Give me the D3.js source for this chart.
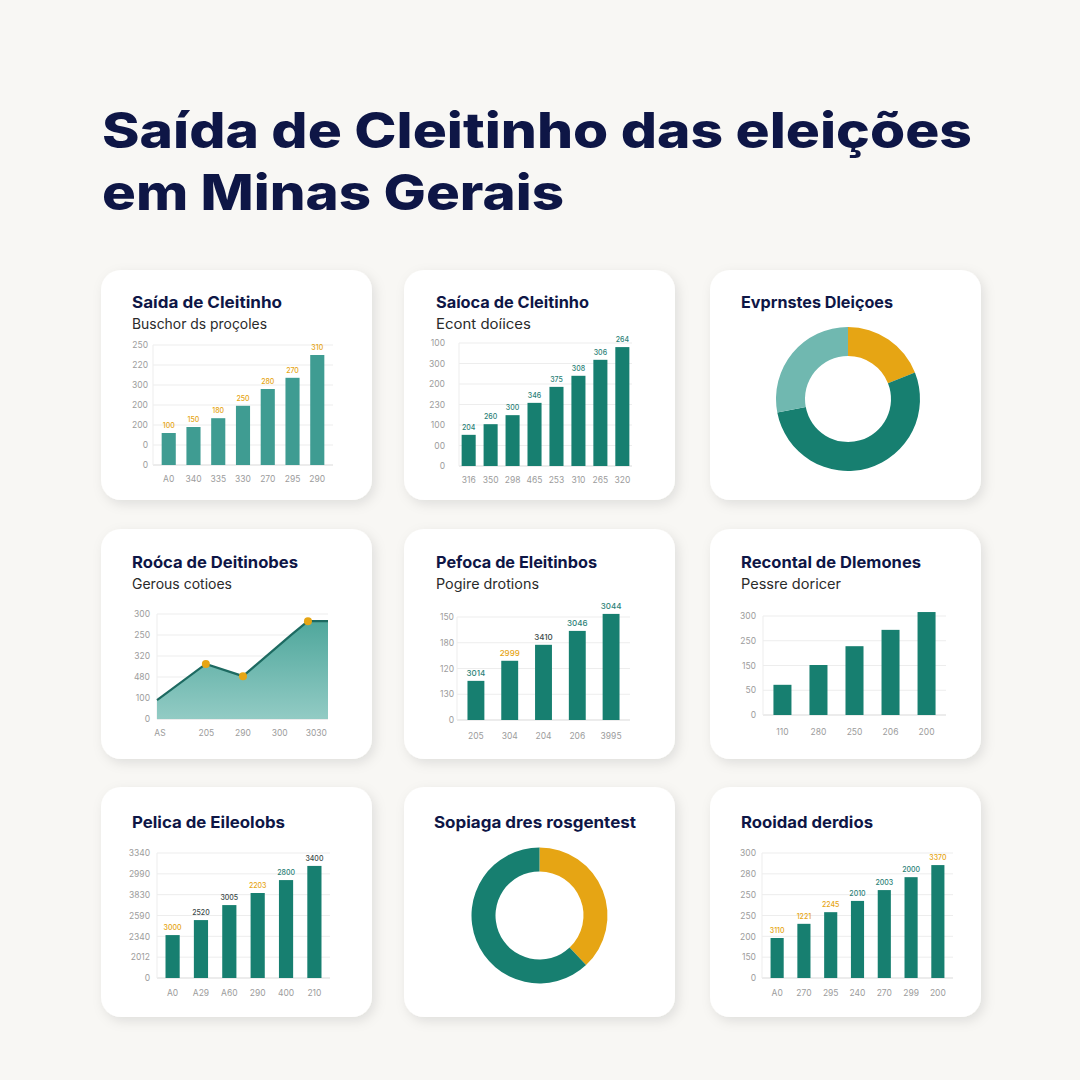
<!DOCTYPE html>
<html><head><meta charset="utf-8">
<script src="https://cdn.jsdelivr.net/npm/d3@7"></script>
<style>
html,body{margin:0;padding:0;background:#f8f7f4;}
svg{display:block;font-family:Inter,"Noto Sans",sans-serif;}
</style>
</head><body>
<svg id="chart" width="1080" height="1080"></svg>
<script>
// ---------------- DATA ----------------
const mainTitle = ["Saída de Cleitinho das eleições", "em Minas Gerais"];

const panelTitles = ["Saída de Cleitinho","Saíoca de Cleitinho","Evprnstes Dleiçoes",
  "Roóca de Deitinobes","Pefoca de Eleitinbos","Recontal de Dlemones",
  "Pelica de Eileolobs","Sopiaga dres rosgentest","Rooidad derdios"];
const panelSubtitles = ["Buschor ds proçoles","Econt doíices",null,
  "Gerous cotioes","Pogire drotions","Pessre doricer",null,null,null];

// Panel 1 (bars)
const p1Categories  = ["A0","340","335","330","270","295","290"];
const p1Values      = [80,95,117,148,190,218,275];
const p1ValueLabels = ["100","150","180","250","280","270","310"];
const p1TickLabels  = ["0","0","200","200","300","220","250"];
const p1Max = 300;

// Panel 2 (bars)
const p2Categories  = ["316","350","298","465","253","310","265","320"];
const p2Values      = [76,102,124,154,193,220,259,290];
const p2ValueLabels = ["204","260","300","346","375","308","306","264"];
const p2TickLabels  = ["0","00","100","230","200","300","100"];
const p2Max = 300;

// Panel 3 (donut)
const p3Slices = ["A","B","C"];
const p3Values = [19,53,28];

// Panel 4 (area)
const p4X          = [0,2,3.52,5.53,6.18,7];
const p4Values     = [45,131,102,202,233,233];
const p4Highlight  = [false,true,true,false,true,false];
const p4XTicks     = [0.1,2,3.5,5,6.5];
const p4XLabels    = ["AS","205","290","300","3030"];
const p4TickLabels = ["0","100","480","320","250","300"];
const p4Max = 250, p4XMax = 7;

// Panel 5 (bars)
const p5Categories  = ["205","304","204","206","3995"];
const p5Values      = [76,115,146,173,206];
const p5ValueLabels = ["3014","2999","3410","3046","3044"];
const p5TickLabels  = ["0","130","120","180","150"];
const p5Max = 200;

// Panel 6 (bars)
const p6Categories  = ["110","280","250","206","200"];
const p6Values      = [61,101,139,172,208];
const p6TickLabels  = ["0","50","150","250","300"];
const p6Max = 200;

// Panel 7 (bars)
const p7Categories  = ["A0","A29","A60","290","400","210"];
const p7Values      = [103,139,175,204,235,269];
const p7ValueLabels = ["3000","2520","3005","2203","2800","3400"];
const p7TickLabels  = ["0","2012","2340","2590","3830","2990","3340"];
const p7Max = 300;

// Panel 8 (donut)
const p8Slices = ["A","B"];
const p8Values = [38,62];

// Panel 9 (bars)
const p9Categories  = ["A0","270","295","240","270","299","200"];
const p9Values      = [96,130,158,185,211,242,271];
const p9ValueLabels = ["3110","1221","2245","2010","2003","2000","3370"];
const p9TickLabels  = ["0","150","200","250","250","280","300"];
const p9Max = 300;

// ---------------- STYLE / LAYOUT ----------------
const C = {
  bg:"#f8f7f4", navy:"#0e1646", teal:"#177f70", tealLight:"#3f9c92",
  tealPale:"#70b8b0", orange:"#e6a514", tick:"#9c9c9c", grid:"#ededed", axis:"#d9d9d9",
  labTeal:"#2b7f77", labDark:"#3c4a4a"
};
const cardPos = [[101,270],[404,270],[710,270],[101,529],[404,529],[710,529],[101,787],[404,787],[710,787]];
const cardW = 271, cardH = 230, cardR = 20;
const titlePos = [[132,308,150],[436,308,153],[741,308,152],[132,568,166],[436,568,161],[741,568,180],[132,828,153],[434,828,202],[741,828,132]];
const subPos = [[132,329,135],[436,329,95],null,[132,589,100],[436,589,103],[741,589,100],null,null,null];

const svg = d3.select("#chart");
svg.append("rect").attr("width",1080).attr("height",1080).attr("fill",C.bg);

const defs = svg.append("defs");
const f = defs.append("filter").attr("id","sh").attr("x","-20%").attr("y","-20%").attr("width","140%").attr("height","140%");
f.append("feDropShadow").attr("dx",3).attr("dy",4).attr("stdDeviation",6).attr("flood-color","#000").attr("flood-opacity",0.10);
const grad = defs.append("linearGradient").attr("id","areaGrad").attr("x1",0).attr("y1",0).attr("x2",0).attr("y2",1);
grad.append("stop").attr("offset","0%").attr("stop-color","#4fa79c");
grad.append("stop").attr("offset","100%").attr("stop-color","#92cbc4");

// main title
svg.append("g").selectAll("text").data(mainTitle).join("text")
  .attr("x",102).attr("y",(d,i)=>148+i*62)
  .attr("font-size",49).attr("font-weight",800).attr("fill",C.navy)
  .attr("textLength",(d,i)=>i===0?870:462).attr("lengthAdjust","spacingAndGlyphs")
  .text(d=>d);

// cards
svg.append("g").selectAll("rect").data(cardPos).join("rect")
  .attr("x",d=>d[0]).attr("y",d=>d[1]).attr("width",cardW).attr("height",cardH)
  .attr("rx",cardR).attr("fill","#fff").attr("filter","url(#sh)");

// panel titles
svg.append("g").selectAll("text").data(panelTitles).join("text")
  .attr("x",(d,i)=>titlePos[i][0]).attr("y",(d,i)=>titlePos[i][1])
  .attr("textLength",(d,i)=>titlePos[i][2]).attr("lengthAdjust","spacingAndGlyphs")
  .attr("font-size",16).attr("font-weight",700).attr("fill",C.navy).text(d=>d);
svg.append("g").selectAll("text").data(panelSubtitles.map((s,i)=>({s,i})).filter(d=>d.s)).join("text")
  .attr("x",d=>subPos[d.i][0]).attr("y",d=>subPos[d.i][1])
  .attr("textLength",d=>subPos[d.i][2]).attr("lengthAdjust","spacingAndGlyphs")
  .attr("font-size",14).attr("font-weight",400).attr("fill","#2a2a2a").text(d=>d.s);

function yAxisAndGrid(g, y, tickVals, tickLabels, plot){
  g.append("g").selectAll("line").data(tickVals.slice(1)).join("line")
    .attr("x1",plot.left).attr("x2",plot.right).attr("y1",d=>y(d)).attr("y2",d=>y(d))
    .attr("stroke",C.grid).attr("stroke-width",1);
  g.append("line").attr("x1",plot.left).attr("x2",plot.right).attr("y1",plot.bottom).attr("y2",plot.bottom)
    .attr("stroke",C.axis).attr("stroke-width",1);
  g.append("line").attr("x1",plot.left).attr("x2",plot.left).attr("y1",plot.top).attr("y2",plot.bottom)
    .attr("stroke",C.grid).attr("stroke-width",1);
  const ya = d3.axisLeft(y).tickValues(tickVals).tickFormat((d,i)=>tickLabels[i]).tickSize(0).tickPadding(0);
  const ag = g.append("g").attr("transform",`translate(${plot.labelX},0)`).call(ya);
  ag.select(".domain").remove();
  ag.attr("font-family",null).attr("font-size",null);
  ag.selectAll("text").attr("fill",C.tick).style("font-size","8.5px");
}

function barPanel(cfg){
  const g = svg.append("g");
  const {plot, categories, values, valueLabels, tickLabels, yMax, barColor, labelColors, pi, po, labelSize} = cfg;
  const idx = d3.range(categories.length);
  const x = d3.scaleBand().domain(idx).range([plot.left, plot.right]).paddingInner(pi).paddingOuter(po);
  const y = d3.scaleLinear().domain([0,yMax]).range([plot.bottom, plot.top]);
  const tickVals = d3.range(tickLabels.length).map(i=>i*yMax/(tickLabels.length-1));
  yAxisAndGrid(g, y, tickVals, tickLabels, plot);
  const xa = d3.axisBottom(x).tickSize(0).tickPadding(plot.xPad).tickFormat(i=>categories[i]);
  const xg = g.append("g").attr("transform",`translate(0,${plot.bottom})`).call(xa);
  xg.select(".domain").remove();
  xg.attr("font-family",null).attr("font-size",null);
  xg.selectAll("text").attr("fill",C.tick).style("font-size","8.5px");
  g.append("g").selectAll("rect").data(values).join("rect")
    .attr("x",(d,i)=>x(i)).attr("width",x.bandwidth())
    .attr("y",d=>y(d)).attr("height",d=>plot.bottom-y(d)).attr("fill",barColor);
  if(valueLabels){
    g.append("g").selectAll("text").data(valueLabels).join("text")
      .attr("x",(d,i)=>x(i)+x.bandwidth()/2).attr("y",(d,i)=>y(values[i])-5)
      .attr("text-anchor","middle").attr("font-size",labelSize||7).attr("font-weight",500)
      .attr("fill",(d,i)=>labelColors[i]).text(d=>d);
  }
}

barPanel({plot:{left:153,right:333,top:345,bottom:465,labelX:148,xPad:11},
  categories:p1Categories, values:p1Values, valueLabels:p1ValueLabels, tickLabels:p1TickLabels,
  yMax:p1Max, barColor:C.tealLight, labelColors:p1Values.map(()=>C.orange), pi:0.43, po:0.35});
barPanel({plot:{left:459,right:632,top:343,bottom:466,labelX:445,xPad:11},
  categories:p2Categories, values:p2Values, valueLabels:p2ValueLabels, tickLabels:p2TickLabels,
  yMax:p2Max, barColor:C.teal, labelColors:p2Values.map(()=>C.labTeal), pi:0.36, po:0.12});
barPanel({plot:{left:457,right:630,top:617,bottom:720,labelX:454,xPad:13},
  categories:p5Categories, values:p5Values, valueLabels:p5ValueLabels, tickLabels:p5TickLabels,
  yMax:p5Max, barColor:C.teal, labelColors:[C.labTeal,C.orange,C.labDark,C.labTeal,C.labTeal], pi:0.5, po:0.31, labelSize:8});
barPanel({plot:{left:763,right:946,top:616,bottom:715,labelX:756,xPad:14},
  categories:p6Categories, values:p6Values, valueLabels:null, tickLabels:p6TickLabels,
  yMax:p6Max, barColor:C.teal, labelColors:null, pi:0.5, po:0.29});
barPanel({plot:{left:157,right:330,top:853,bottom:978,labelX:150,xPad:12},
  categories:p7Categories, values:p7Values, valueLabels:p7ValueLabels, tickLabels:p7TickLabels,
  yMax:p7Max, barColor:C.teal, labelColors:[C.orange,C.labDark,C.labDark,C.orange,C.labTeal,C.labDark], pi:0.5, po:0.3});
barPanel({plot:{left:762,right:953,top:853,bottom:978,labelX:756,xPad:12},
  categories:p9Categories, values:p9Values, valueLabels:p9ValueLabels, tickLabels:p9TickLabels,
  yMax:p9Max, barColor:C.teal, labelColors:[C.orange,C.orange,C.orange,C.labTeal,C.labTeal,C.labTeal,C.orange], pi:0.51, po:0.32});

// Panel 4 area
(function(){
  const plot = {left:157,right:328,top:614,bottom:719,labelX:150};
  const g = svg.append("g");
  const x = d3.scaleLinear().domain([0,p4XMax]).range([plot.left,plot.right]);
  const y = d3.scaleLinear().domain([0,p4Max]).range([plot.bottom,plot.top]);
  const tickVals = d3.range(p4TickLabels.length).map(i=>i*p4Max/(p4TickLabels.length-1));
  yAxisAndGrid(g, y, tickVals, p4TickLabels, plot);
  const pts = p4X.map((xv,i)=>({x:xv,y:p4Values[i],h:p4Highlight[i]}));
  g.append("path").datum(pts).attr("fill","url(#areaGrad)")
    .attr("d",d3.area().x(d=>x(d.x)).y0(plot.bottom).y1(d=>y(d.y)));
  g.append("path").datum(pts).attr("fill","none").attr("stroke","#1d6a61").attr("stroke-width",2.2)
    .attr("d",d3.line().x(d=>x(d.x)).y(d=>y(d.y)));
  g.append("g").selectAll("circle").data(pts.filter(d=>d.h)).join("circle")
    .attr("cx",d=>x(d.x)).attr("cy",d=>y(d.y)).attr("r",4).attr("fill",C.orange);
  const xa = d3.axisBottom(x).tickValues(p4XTicks).tickSize(0).tickPadding(11).tickFormat((d,i)=>p4XLabels[i]);
  const xg = g.append("g").attr("transform",`translate(0,${plot.bottom})`).call(xa);
  xg.select(".domain").remove();
  xg.attr("font-family",null).attr("font-size",null);
  xg.selectAll("text").attr("fill",C.tick).style("font-size","8.5px");
})();

// Donuts
function donut(cx, cy, ro, ri, values, colors){
  const pie = d3.pie().sort(null).value(d=>d);
  const arc = d3.arc().innerRadius(ri).outerRadius(ro);
  svg.append("g").attr("transform",`translate(${cx},${cy})`)
    .selectAll("path").data(pie(values)).join("path")
    .attr("d",arc).attr("fill",(d,i)=>colors[i]);
}
donut(848,399,72,43,p3Values,[C.orange,C.teal,C.tealPale]);
donut(539.5,915.5,68,44,p8Values,[C.orange,C.teal]);
</script>
</body></html>
